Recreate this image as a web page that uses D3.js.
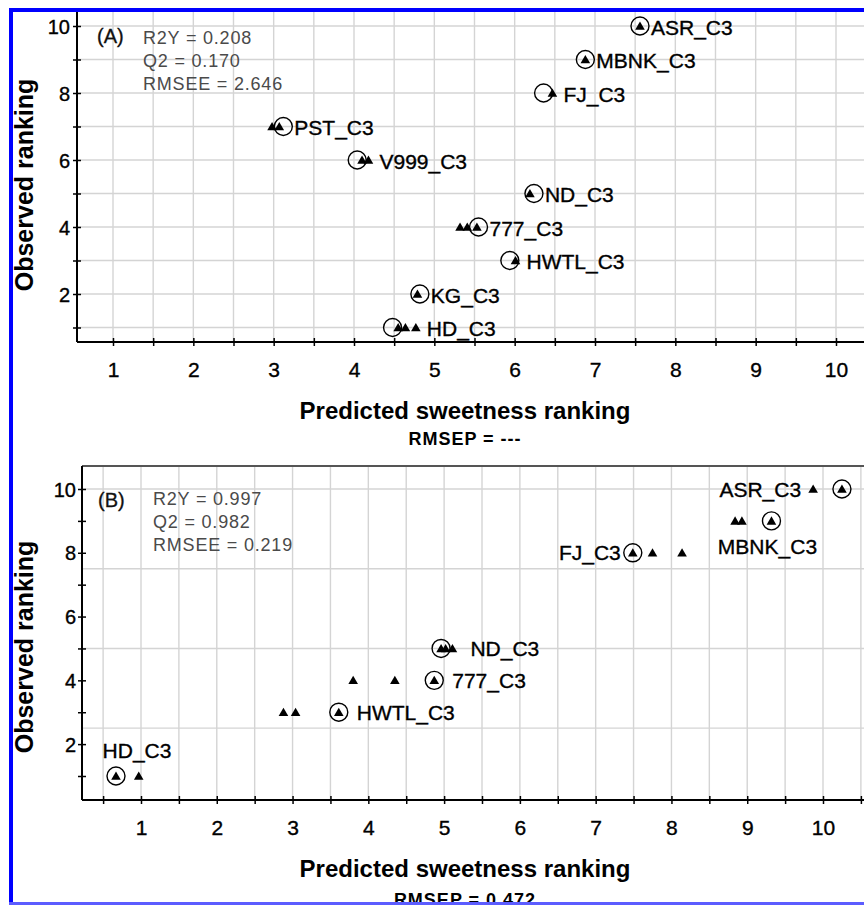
<!DOCTYPE html>
<html lang="en">
<head>
<meta charset="UTF-8">
<title>Sweetness ranking PLS</title>
<script src="https://cdn.jsdelivr.net/npm/d3@7"></script>
<style>
  body { margin: 0; background: #fff; }
  svg { display: block; font-family: "Liberation Sans", Arial, sans-serif; }
</style>
</head>
<body>
<svg width="864" height="905"></svg>
<script>
    // panel A : all samples
    const samplesA = ["ASR_C3", "MBNK_C3", "FJ_C3", "PST_C3", "V999_C3", "ND_C3", "777_C3", "HWTL_C3", "KG_C3", "HD_C3"]
    const observedA = [10, 9, 8, 7, 6, 5, 4, 3, 2, 1]
    const circledA = [7.56, 6.88, 6.36, 3.12, 4.04, 6.24, 5.55, 5.94, 4.82, 4.48]
    const trianglesA = [[7.56], [6.88], [6.47], [2.98, 3.07], [4.10, 4.18], [6.19], [5.32, 5.41, 5.53], [6.01], [4.79], [4.55, 4.64, 4.77]]
    const statsA = ["R2Y = 0.208", "Q2 = 0.170", "RMSEE = 2.646"]
    const rmsepA = "RMSEP = ---"

    // panel B : reduced model
    const samplesB = ["ASR_C3", "MBNK_C3", "FJ_C3", "ND_C3", "777_C3", "HWTL_C3", "HD_C3"]
    const observedB = [10, 9, 8, 5, 4, 3, 1]
    const circledB = [10.25, 9.32, 7.49, 4.96, 4.87, 3.61, 0.67]
    const trianglesB = [[9.87, 10.25], [8.84, 8.93, 9.32], [7.49, 7.75, 8.14], [4.96, 5.02, 5.11], [3.80, 4.35, 4.87], [2.88, 3.04, 3.61], [0.67, 0.97]]
    const statsB = ["R2Y = 0.997", "Q2 = 0.982", "RMSEE = 0.219"]
    const rmsepB = "RMSEP = 0.472"

    const xTicks = [1, 2, 3, 4, 5, 6, 7, 8, 9, 10]
    const yTicks = [2, 4, 6, 8, 10]
    const xTitle = "Predicted sweetness ranking"
    const yTitle = "Observed ranking"

    const svg = d3.select("svg")
    svg.append("rect").attr("width", 864).attr("height", 905).attr("fill", "#fff")

    function drawPanel(p) {
        const g = svg.append("g")
        const x = d3.scaleLinear().domain([1, 10]).range(p.xRange)
        const y = d3.scaleLinear().domain([1, 10]).range(p.yRange)
        const b = p.box

        const clipId = "clip" + p.name
        svg.append("clipPath").attr("id", clipId)
            .append("rect").attr("x", b.left).attr("y", b.top)
            .attr("width", b.right - b.left).attr("height", b.bottom - b.top)

        const grid = g.append("g").attr("clip-path", `url(#${clipId})`)
        const halfSteps = d3.range(0, 11.01, 0.5)
        grid.selectAll(".vg").data(halfSteps).enter().append("line")
            .attr("x1", d => x(d)).attr("x2", d => x(d))
            .attr("y1", b.top).attr("y2", b.bottom)
            .attr("stroke", "#d4d4d4").attr("stroke-width", 1.4)
        grid.selectAll(".hg").data(p.hGrid).enter().append("line")
            .attr("x1", b.left).attr("x2", b.right)
            .attr("y1", d => y(d)).attr("y2", d => y(d))
            .attr("stroke", "#d4d4d4").attr("stroke-width", 1.4)

        if (p.topFrame) {
            g.append("line").attr("x1", b.left).attr("x2", b.right)
                .attr("y1", b.top).attr("y2", b.top)
                .attr("stroke", "#555").attr("stroke-width", 2)
        }

        // axes
        const xAxis = g.append("g").attr("transform", `translate(0,${b.bottom})`)
            .call(d3.axisBottom(x).tickValues(halfSteps.filter(d => x(d) > b.left + 2 && x(d) < 864))
                .tickSize(4).tickFormat(d => Number.isInteger(d) && xTicks.includes(d) ? d : ""))
        xAxis.select(".domain").remove()
        xAxis.selectAll(".tick line").attr("y1", -4).attr("y2", 4).attr("stroke", "#000").attr("stroke-width", 1.5)
        xAxis.selectAll(".tick text").attr("y", 20).attr("dy", "0.71em")
            .attr("font-size", 21).attr("fill", "#000").attr("stroke", "#000").attr("stroke-width", 0.35)
            .attr("font-family", "Liberation Sans, Arial, sans-serif")

        const yAxis = g.append("g").attr("transform", `translate(${b.left},0)`)
            .call(d3.axisLeft(y).tickValues(d3.range(1, 11)).tickSize(4)
                .tickFormat(d => yTicks.includes(d) ? d : ""))
        yAxis.select(".domain").remove()
        yAxis.selectAll(".tick line").attr("x1", -4).attr("x2", 4).attr("stroke", "#000").attr("stroke-width", 1.5)
        yAxis.selectAll(".tick text").attr("x", -p.yLabelGap).attr("dy", "0.36em")
            .attr("font-size", 20).attr("fill", "#000").attr("stroke", "#000").attr("stroke-width", 0.35)
            .attr("font-family", "Liberation Sans, Arial, sans-serif")

        g.append("line").attr("x1", b.left).attr("x2", b.right)
            .attr("y1", b.bottom).attr("y2", b.bottom).attr("stroke", "#000").attr("stroke-width", 2)
        g.append("line").attr("x1", b.left).attr("x2", b.left)
            .attr("y1", b.top).attr("y2", b.bottom).attr("stroke", "#000").attr("stroke-width", 2)

        // titles
        g.append("text").attr("x", 465).attr("y", b.bottom + 77)
            .attr("text-anchor", "middle").attr("font-size", 24).attr("font-weight", "bold")
            .text(xTitle)
        g.append("text").attr("x", 465).attr("y", b.bottom + p.rmsepGap)
            .attr("text-anchor", "middle").attr("font-size", 18).attr("font-weight", "bold")
            .attr("letter-spacing", 1).text(p.rmsep)
        g.append("text")
            .attr("transform", `translate(33,${p.yTitleMid}) rotate(-90)`)
            .attr("text-anchor", "middle").attr("font-size", 25).attr("font-weight", "bold")
            .text(yTitle)

        // panel tag and fit stats
        g.append("text").attr("x", p.tag[0]).attr("y", p.tag[1])
            .attr("font-size", 20).attr("fill", "#111").attr("stroke", "#111").attr("stroke-width", 0.3)
            .text(p.name === "A" ? "(A)" : "(B)")
        g.selectAll(".stat").data(p.stats).enter().append("text")
            .attr("x", p.statX).attr("y", (d, i) => p.statY + i * 23)
            .attr("font-size", 18).attr("letter-spacing", 0.8).attr("fill", "#4a4a4a")
            .text(d => d)

        // markers
        const tri = d3.symbol().type(d3.symbolTriangle).size(40)
        const marks = g.append("g").attr("clip-path", `url(#${clipId})`)
        p.samples.forEach((s, i) => {
            const yy = y(p.observed[i])
            p.triangles[i].forEach(v => {
                marks.append("path").attr("d", tri)
                    .attr("transform", `translate(${x(v)},${yy + 1})`)
                    .attr("fill", "#000")
            })
            marks.append("circle").attr("cx", x(p.circled[i])).attr("cy", yy).attr("r", 9)
                .attr("fill", "none").attr("stroke", "#000").attr("stroke-width", 1.4)

            const xs = p.triangles[i].concat([p.circled[i]]).map(x)
            const place = p.place(s, d3.min(xs), d3.max(xs), x(p.circled[i]))
            g.append("text").attr("x", place.x).attr("y", yy + place.dy)
                .attr("dy", "0.36em").attr("text-anchor", place.anchor)
                .attr("font-size", 21).attr("fill", "#000").attr("stroke", "#000").attr("stroke-width", 0.35)
                .text(s)
        })
    }

    drawPanel({
        name: "A",
        samples: samplesA, observed: observedA, circled: circledA, triangles: trianglesA,
        stats: statsA, rmsep: rmsepA,
        xRange: [113, 836], yRange: [327.5, 26],
        box: {left: 77, right: 870, top: 12, bottom: 342},
        hGrid: d3.range(1, 11), topFrame: false,
        yLabelGap: 7, yTitleMid: 185, rmsepGap: 103,
        tag: [97, 43], statX: 143, statY: 44,
        place: (s, lo, hi, c) => ({x: hi + 11, dy: 1, anchor: "start"})
    })

    drawPanel({
        name: "B",
        samples: samplesB, observed: observedB, circled: circledB, triangles: trianglesB,
        stats: statsB, rmsep: rmsepB,
        xRange: [141, 823], yRange: [776, 489],
        box: {left: 82, right: 870, top: 466, bottom: 800},
        hGrid: [2.5, 5, 7.5, 10], topFrame: true,
        yLabelGap: 6, yTitleMid: 647, rmsepGap: 106,
        tag: [98, 507], statX: 153, statY: 505,
        place: (s, lo, hi, c) => {
            if (s === "ASR_C3" || s === "FJ_C3") return {x: lo - 12, dy: 0, anchor: "end"}
            if (s === "MBNK_C3") return {x: c - 4, dy: 26, anchor: "middle"}
            if (s === "HD_C3") return {x: c + 21, dy: -26, anchor: "middle"}
            return {x: hi + 18, dy: 0, anchor: "start"}
        }
    })

    // blue frame of the figure (the bottom line crosses the last, partly hidden text as in the source)
    svg.append("rect").attr("x", 9).attr("y", 8).attr("width", 4).attr("height", 905).attr("fill", "#0000ff")
    svg.append("rect").attr("x", 9).attr("y", 8).attr("width", 860).attr("height", 4).attr("fill", "#0000ff")
    svg.append("rect").attr("x", 9).attr("y", 902).attr("width", 860).attr("height", 3).attr("fill", "#5c5cff")
</script>
</body>
</html>
